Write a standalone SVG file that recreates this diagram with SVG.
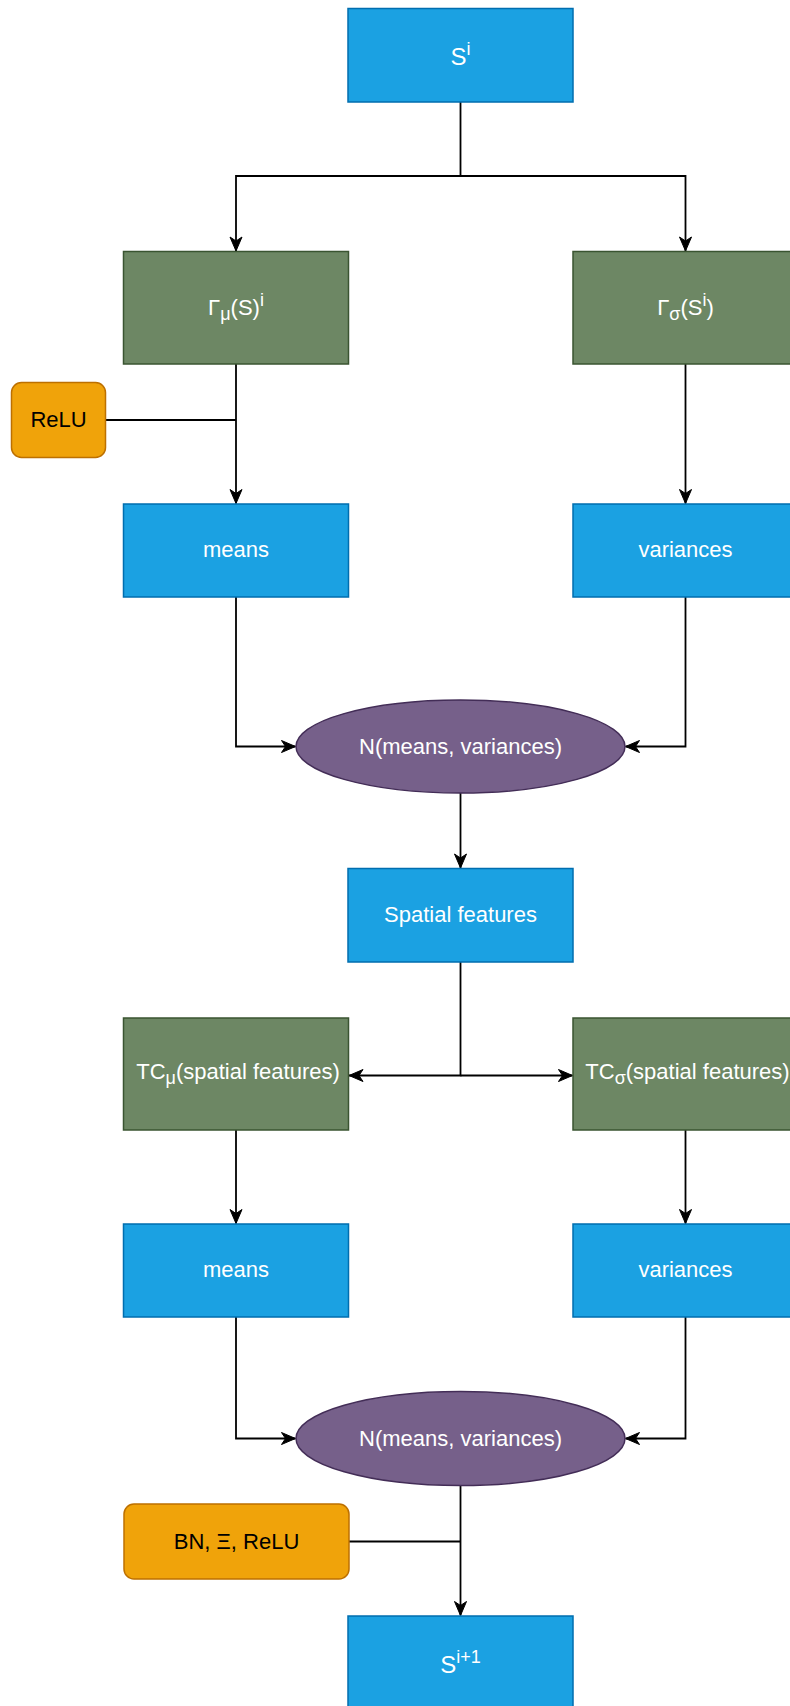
<svg xmlns="http://www.w3.org/2000/svg" width="790" height="1706" viewBox="0 0 790 1706">
<defs>
<marker id="arr" markerUnits="userSpaceOnUse" markerWidth="16" markerHeight="16" viewBox="0 0 16 16" refX="15" refY="8" orient="auto">
<path d="M1,2 L15,8 L1,14 L5,8 Z" fill="#000" stroke="#000" stroke-width="1"/>
</marker>
<style>
.blue{fill:#1ba1e2;stroke:#006eaf;stroke-width:1.5}
.green{fill:#6d8764;stroke:#3a5431;stroke-width:1.5}
.purple{fill:#76608a;stroke:#432d57;stroke-width:1.5}
.orange{fill:#f0a30a;stroke:#bd7000;stroke-width:1.5}
text{font-family:"Liberation Sans",Arial,sans-serif;font-size:22px;text-anchor:middle}
.w{fill:#ffffff}
.k{fill:#000000}
.sm{font-size:18px}
.big{font-size:24px}
.conn path{fill:none;stroke:#000;stroke-width:1.8}
</style>
</defs>
<rect width="790" height="1706" fill="#ffffff"/>
<g class="conn" id="connectors">
<path d="M460.5,102 V176 H236 V251" marker-end="url(#arr)"/>
<path d="M460.5,176 H685.5 V251" marker-end="url(#arr)"/>
<path d="M236,364 V503.5" marker-end="url(#arr)"/>
<path d="M105.5,420 H236"/>
<path d="M685.5,364 V503.5" marker-end="url(#arr)"/>
<path d="M236,597 V746.5 H295.5" marker-end="url(#arr)"/>
<path d="M685.5,597 V746.5 H625.5" marker-end="url(#arr)"/>
<path d="M460.5,793 V868" marker-end="url(#arr)"/>
<path d="M460.5,962 V1075.5 H349" marker-end="url(#arr)"/>
<path d="M460.5,1075.5 H572.5" marker-end="url(#arr)"/>
<path d="M236,1130 V1223.5" marker-end="url(#arr)"/>
<path d="M685.5,1130 V1223.5" marker-end="url(#arr)"/>
<path d="M236,1317 V1438.5 H295.5" marker-end="url(#arr)"/>
<path d="M685.5,1317 V1438.5 H625.5" marker-end="url(#arr)"/>
<path d="M460.5,1485.5 V1615.5" marker-end="url(#arr)"/>
<path d="M349,1541.5 H460.5"/>
</g>
<g id="s_i">
<rect class="blue" x="348" y="8.5" width="225" height="93.5"/>
<text class="w big" x="460.5" y="65">S<tspan class="sm" dy="-10">i</tspan></text>
</g>
<g id="gamma_mu">
<rect class="green" x="123.5" y="251.5" width="225" height="112.5"/>
<text class="w" x="236" y="315">Γ<tspan class="sm" dy="5">μ</tspan><tspan dy="-5">(S)</tspan><tspan class="sm" dy="-9">i</tspan></text>
</g>
<g id="gamma_sigma">
<rect class="green" x="573" y="251.5" width="225" height="112.5"/>
<text class="w" x="685.5" y="315">Γ<tspan class="sm" dy="5">σ</tspan><tspan dy="-5">(S</tspan><tspan class="sm" dy="-9">i</tspan><tspan dy="9">)</tspan></text>
</g>
<g id="relu">
<rect class="orange" x="11.5" y="382.5" width="94" height="75" rx="10"/>
<text class="k" x="58.5" y="427">ReLU</text>
</g>
<g id="means1">
<rect class="blue" x="123.5" y="504" width="225" height="93"/>
<text class="w" x="236" y="557">means</text>
</g>
<g id="variances1">
<rect class="blue" x="573" y="504" width="225" height="93"/>
<text class="w" x="685.5" y="557">variances</text>
</g>
<g id="normal1">
<ellipse class="purple" cx="460.5" cy="746.5" rx="164.5" ry="46.5"/>
<text class="w" x="460.5" y="754">N(means, variances)</text>
</g>
<g id="spatial">
<rect class="blue" x="348" y="868.5" width="225" height="93.5"/>
<text class="w" x="460.5" y="922">Spatial features</text>
</g>
<g id="tc_mu">
<rect class="green" x="123.5" y="1018" width="225" height="112"/>
<text class="w" x="238" y="1079">TC<tspan class="sm" dy="5">μ</tspan><tspan dy="-5">(spatial features)</tspan></text>
</g>
<g id="tc_sigma">
<rect class="green" x="573" y="1018" width="225" height="112"/>
<text class="w" x="687.5" y="1079">TC<tspan class="sm" dy="5">σ</tspan><tspan dy="-5">(spatial features)</tspan></text>
</g>
<g id="means2">
<rect class="blue" x="123.5" y="1224" width="225" height="93"/>
<text class="w" x="236" y="1277">means</text>
</g>
<g id="variances2">
<rect class="blue" x="573" y="1224" width="225" height="93"/>
<text class="w" x="685.5" y="1277">variances</text>
</g>
<g id="normal2">
<ellipse class="purple" cx="460.5" cy="1438.5" rx="164.5" ry="47"/>
<text class="w" x="460.5" y="1446">N(means, variances)</text>
</g>
<g id="bn_relu">
<rect class="orange" x="124" y="1504" width="225" height="75" rx="10"/>
<text class="k" x="236.5" y="1549">BN, Ξ, ReLU</text>
</g>
<g id="s_i1">
<rect class="blue" x="348" y="1616" width="225" height="93"/>
<text class="w big" x="460.5" y="1673">S<tspan class="sm" dy="-10">i+1</tspan></text>
</g>
</svg>
